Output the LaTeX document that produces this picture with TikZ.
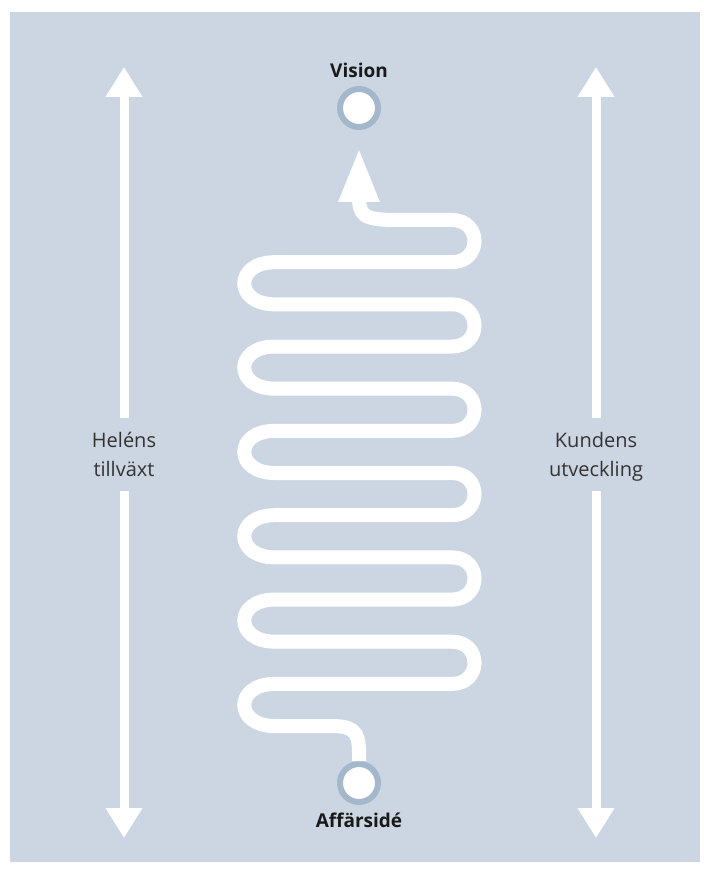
\documentclass[tikz,border=0pt]{standalone}
\usepackage{fontspec}
\setmainfont{Open Sans}
\usetikzlibrary{arrows.meta,positioning}
\definecolor{bgblue}{HTML}{CCD6E2}
\definecolor{ringblue}{HTML}{A5B7CB}
\definecolor{labelgray}{HTML}{333333}

\begin{document}
\begin{tikzpicture}[x=1pt,y=-1pt,
	dot/.style={circle,draw=ringblue,line width=6pt,fill=white,minimum size=38pt,inner sep=0pt},
	title/.style={font=\bfseries\fontsize{19}{22}\selectfont,text=black!90,inner sep=0pt},
	side/.style={font=\fontsize{20}{29}\selectfont,text=labelgray,align=center,inner xsep=0pt,inner ysep=14pt,text depth=0pt},
	axis/.style={draw=white,line width=9pt,-{Triangle[width=35pt,length=30pt]}},
	road/.style={draw=white,line width=14pt,-{Triangle[width=37pt,length=55pt]}}]

	\useasboundingbox (0,0) rectangle (703,874);
	\fill[bgblue] (10,12) rectangle (700,862);

	\node[dot] (vision) at (359,108) {};
	\node[dot] (affar) at (359,783) {};
	\node[title,above=8pt of vision] (visiontext) {Vision};
	\node[title,below=8pt of affar] (affartext) {Affärsidé};

	\node[side] (helen) at (124,454.5) {Heléns\\tillväxt};
	\node[side] (kund) at (596,454.5) {Kundens\\utveckling};
	\coordinate (helentop) at (124,67);
	\coordinate (helenbot) at (124,838);
	\coordinate (kundtop) at (596,67);
	\coordinate (kundbot) at (596,838);
	\coordinate (goal) at (359,147);

	\draw[axis] (helen) -- (helentop);
	\draw[axis] (helen) -- (helenbot);
	\draw[axis] (kund) -- (kundtop);
	\draw[axis] (kund) -- (kundbot);

	% the winding road, from bottom to top
	\draw[road] (affar) -- (359,752) .. controls (359,730) and (352,726) .. (330,726)
		\foreach \k in {11,9,7,5,3,1}{
			-- (275,{220+42.17*(\k+1)})
			.. controls (234,{220+42.17*(\k+1)}) and (234,{220+42.17*\k}) .. (275,{220+42.17*\k})
			-- (452,{220+42.17*\k})
			.. controls (482,{220+42.17*\k}) and (482,{220+42.17*(\k-1)}) .. (452,{220+42.17*(\k-1)})
		}
		-- (395,220) .. controls (362,220) and (359,214) .. (359,196) -- (goal);
\end{tikzpicture}
\end{document}
